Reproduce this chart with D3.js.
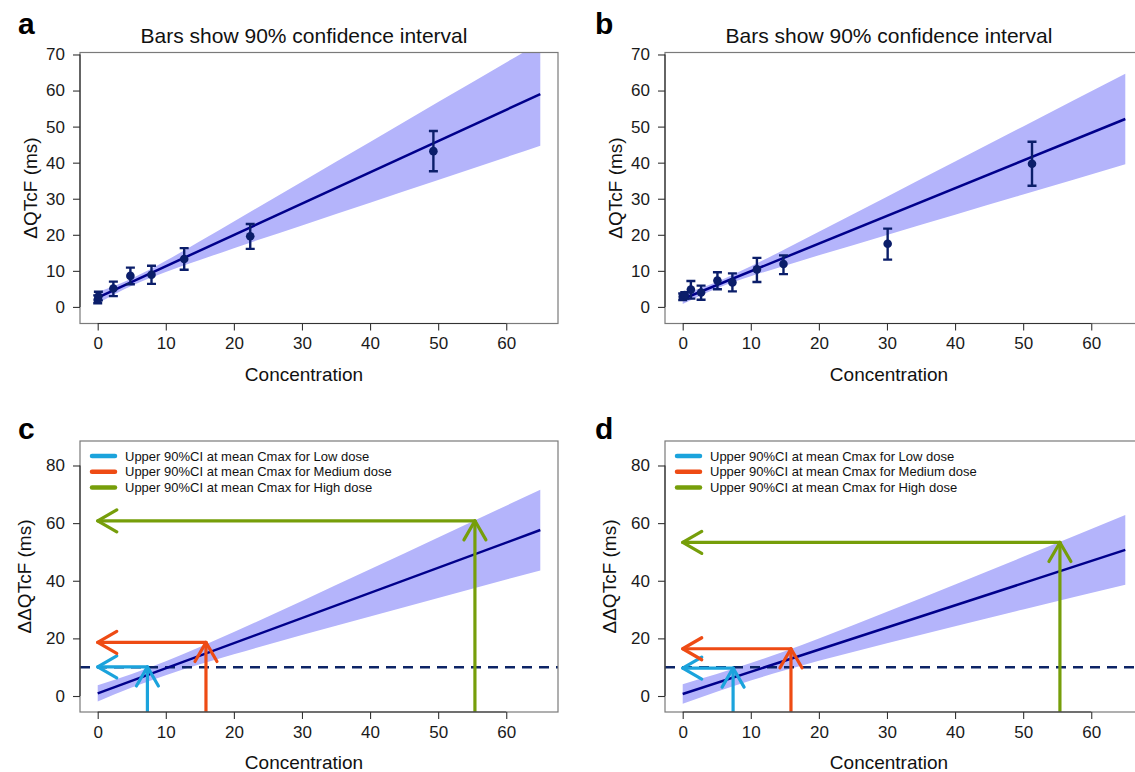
<!DOCTYPE html>
<html>
<head>
<meta charset="utf-8">
<script src="https://cdn.jsdelivr.net/npm/d3@7"></script>
<style>
  body { margin: 0; background: #fff; }
  svg { display: block; font-family: "Liberation Sans", Arial, sans-serif; }
</style>
</head>
<body>
<svg id="chart" width="1135" height="772"></svg>
<script>
// concentration grid for the 90% CI bands
const bandConc = [0, 5, 10, 15, 20, 30, 40, 50, 65];

// panel a
const bandLoA = [1.05, 5.9, 9.7, 13.0, 16.3, 22.6, 28.9, 35.2, 44.7];
const bandHiA = [4.15, 7.9, 12.8, 18.2, 23.7, 34.7, 45.7, 56.8, 73.3];
const fitConc = [0, 65];
const fitA = [2.6, 59.0];
const concA = [0, 0.1, 2.3, 4.8, 7.9, 12.7, 22.4, 49.3];
const qtcA = [2.0, 2.9, 5.1, 8.6, 8.9, 13.3, 19.6, 43.2];
const loA = [1.0, 1.8, 3.0, 6.3, 6.4, 10.3, 16.1, 37.6];
const hiA = [3.2, 4.2, 7.0, 10.9, 11.4, 16.3, 23.0, 48.8];

// panel b
const bandLoB = [0.82, 5.14, 8.5, 11.44, 14.3, 19.94, 25.55, 31.15, 39.57];
const bandHiB = [3.58, 6.94, 11.26, 16.0, 20.82, 30.54, 40.29, 50.05, 64.67];
const fitB = [2.2, 52.1];
const concB = [0, 0.3, 1.2, 2.7, 5.1, 7.3, 10.9, 14.8, 30.1, 51.3];
const qtcB = [2.8, 3.3, 4.8, 4.0, 7.3, 6.8, 10.4, 11.9, 17.5, 39.7];
const loB = [1.9, 2.3, 2.3, 2.0, 4.9, 4.3, 6.9, 9.1, 13.1, 33.6];
const hiB = [3.7, 4.1, 7.2, 5.9, 9.6, 9.3, 13.6, 14.3, 21.7, 45.8];

// panel c
const bandLoC = [-1.94, 2.91, 7.21, 10.99, 14.5, 21.14, 27.61, 34.03, 43.6];
const bandHiC = [3.74, 7.61, 12.03, 16.97, 22.2, 33.0, 43.97, 55.01, 71.6];
const fitC = [0.9, 57.6];
const cmaxC = [7.3, 15.9, 55.4];
const upperC = [10.1, 18.6, 60.8];

// panel d
const bandLoD = [-2.72, 1.49, 5.36, 8.91, 12.2, 18.34, 24.23, 30.01, 38.59];
const bandHiD = [4.12, 7.61, 11.42, 15.57, 19.96, 29.2, 38.69, 48.29, 62.79];
const fitD = [0.7, 50.7];
const cmaxD = [7.4, 15.9, 55.4];
const upperD = [9.7, 16.4, 53.3];

const doseNames = ['Low', 'Medium', 'High'];
const doseColors = ['#1ba3dc', '#ee4b14', '#769e0a'];
const threshold = 10;

const xTicks = [0, 10, 20, 30, 40, 50, 60];
const yTicksTop = [0, 10, 20, 30, 40, 50, 60, 70];
const yTicksBottom = [0, 20, 40, 60, 80];

const svg = d3.select('#chart');
svg.append('rect').attr('width', 1135).attr('height', 772).attr('fill', '#fff');

const BAND = '#b4b4fb';
const FIT = '#00008b';
const PT = '#0b1e6a';

function drawPanel(p) {
  const g = svg.append('g');
  const x = d3.scaleLinear().domain([-2.6, 67.6]).range([p.left, p.left + 478]);
  const y = d3.scaleLinear().domain(p.yDomain).range([p.bottom, p.top]);
  const clipId = 'clip-' + p.letter;
  svg.append('clipPath').attr('id', clipId)
    .append('rect').attr('x', p.left).attr('y', p.top)
    .attr('width', 478).attr('height', p.bottom - p.top);
  const inner = g.append('g').attr('clip-path', `url(#${clipId})`);

  // CI band
  const area = d3.area()
    .x((d, i) => x(bandConc[i]))
    .y0((d, i) => y(p.bandLo[i]))
    .y1((d, i) => y(p.bandHi[i]))
    .curve(d3.curveMonotoneX);
  inner.append('path').datum(p.bandLo).attr('d', area).attr('fill', BAND);

  // threshold
  if (p.arrows) {
    inner.append('line')
      .attr('x1', p.left).attr('x2', p.left + 478)
      .attr('y1', y(threshold)).attr('y2', y(threshold))
      .attr('stroke', '#0d2466').attr('stroke-width', 2.4)
      .attr('stroke-dasharray', '10,7');
  }

  // fitted line
  inner.append('line')
    .attr('x1', x(fitConc[0])).attr('y1', y(p.fit[0]))
    .attr('x2', x(fitConc[1])).attr('y2', y(p.fit[1]))
    .attr('stroke', FIT).attr('stroke-width', 2.5);

  // observed points with 90% CI bars
  if (p.points) {
    const pts = p.points.conc.map((c, i) => ({ c, v: p.points.v[i], lo: p.points.lo[i], hi: p.points.hi[i] }));
    const eb = inner.append('g').attr('stroke', PT).attr('stroke-width', 2.4);
    pts.forEach(d => {
      eb.append('line').attr('x1', x(d.c)).attr('x2', x(d.c)).attr('y1', y(d.lo)).attr('y2', y(d.hi));
      [d.lo, d.hi].forEach(v => eb.append('line')
        .attr('x1', x(d.c) - 4.5).attr('x2', x(d.c) + 4.5).attr('y1', y(v)).attr('y2', y(v)));
    });
    inner.append('g').selectAll('circle').data(pts).join('circle')
      .attr('cx', d => x(d.c)).attr('cy', d => y(d.v)).attr('r', 4.3).attr('fill', PT);
  }

  // dose arrows
  if (p.arrows) {
    p.arrows.cmax.forEach((c, i) => {
      const col = doseColors[i];
      const u = p.arrows.upper[i];
      arrow(inner, x(c), y(p.yDomain[0] - 3), x(c), y(u), col);
      arrow(inner, x(c), y(u), x(0), y(u), col);
    });

    const lg = g.append('g');
    doseNames.forEach((n, i) => {
      const yy = p.top + 15 + i * 15.7;
      lg.append('line').attr('x1', p.left + 12).attr('x2', p.left + 35)
        .attr('y1', yy).attr('y2', yy)
        .attr('stroke', doseColors[i]).attr('stroke-width', 4.5).attr('stroke-linecap', 'round');
      lg.append('text').attr('x', p.left + 45).attr('y', yy + 4.6)
        .attr('font-size', 13).attr('fill', '#111')
        .text(`Upper 90%CI at mean Cmax for ${n} dose`);
    });
  }

  // box
  g.append('rect').attr('x', p.left).attr('y', p.top)
    .attr('width', 478).attr('height', p.bottom - p.top)
    .attr('fill', 'none').attr('stroke', '#7a7a7a').attr('stroke-width', 1.2);

  // axes
  const xa = g.append('g').attr('transform', `translate(0,${p.bottom})`)
    .call(d3.axisBottom(x).tickValues(xTicks).tickSize(7).tickPadding(6.5));
  const ya = g.append('g').attr('transform', `translate(${p.left},0)`)
    .call(d3.axisLeft(y).tickValues(p.yTicks).tickSize(7).tickPadding(8));
  [xa, ya].forEach(a => {
    a.select('.domain').remove();
    a.selectAll('line').attr('stroke', '#333').attr('stroke-width', 1.1);
    a.selectAll('text').attr('font-size', 17).attr('fill', '#1a1a1a')
      .attr('font-family', '"Liberation Sans", Arial, sans-serif');
  });
  g.append('line').attr('x1', x(xTicks[0])).attr('x2', x(xTicks[xTicks.length - 1]))
    .attr('y1', p.bottom).attr('y2', p.bottom).attr('stroke', '#333').attr('stroke-width', 1.2);
  g.append('line').attr('y1', y(p.yTicks[0])).attr('y2', y(p.yTicks[p.yTicks.length - 1]))
    .attr('x1', p.left).attr('x2', p.left).attr('stroke', '#333').attr('stroke-width', 1.2);

  // labels
  g.append('text').attr('x', p.left + 224).attr('y', p.bottom + 57)
    .attr('text-anchor', 'middle').attr('font-size', 19).attr('fill', '#111')
    .text('Concentration');
  const yc = (p.top + p.bottom) / 2;
  g.append('text')
    .attr('transform', `translate(${p.left - p.yTitleOff},${yc}) rotate(-90)`)
    .attr('text-anchor', 'middle').attr('font-size', 19).attr('fill', '#111')
    .text(p.yTitle);
  if (p.title) {
    g.append('text').attr('x', p.left + 224).attr('y', 43)
      .attr('text-anchor', 'middle').attr('font-size', 21).attr('fill', '#111')
      .text(p.title);
  }
  g.append('text').attr('x', p.letterX).attr('y', p.letterY)
    .attr('font-size', 30).attr('font-weight', 'bold').attr('fill', '#000')
    .text(p.letter);
}

function arrow(g, x1, y1, x2, y2, col) {
  const L = 22, a = Math.PI / 6;
  const ang = Math.atan2(y2 - y1, x2 - x1);
  const arms = [ang + a, ang - a].map(t => [x2 - L * Math.cos(t), y2 - L * Math.sin(t)]);
  g.append('line').attr('x1', x1).attr('y1', y1).attr('x2', x2).attr('y2', y2)
    .attr('stroke', col).attr('stroke-width', 3.2).attr('stroke-linecap', 'round');
  g.append('path')
    .attr('d', `M${arms[0][0]},${arms[0][1]}L${x2},${y2}L${arms[1][0]},${arms[1][1]}`)
    .attr('fill', 'none').attr('stroke', col).attr('stroke-width', 3.2)
    .attr('stroke-linecap', 'round').attr('stroke-linejoin', 'round');
}

const title = 'Bars show 90% confidence interval';

drawPanel({
  letter: 'a', letterX: 18, letterY: 34, left: 80, top: 52.5, bottom: 323.5,
  yDomain: [-4.6, 70.55], yTicks: yTicksTop, title, yTitle: 'ΔQTcF (ms)', yTitleOff: 43,
  bandLo: bandLoA, bandHi: bandHiA, fit: fitA,
  points: { conc: concA, v: qtcA, lo: loA, hi: hiA }
});
drawPanel({
  letter: 'b', letterX: 595, letterY: 34, left: 665, top: 52.5, bottom: 323.5,
  yDomain: [-4.6, 70.55], yTicks: yTicksTop, title, yTitle: 'ΔQTcF (ms)', yTitleOff: 43,
  bandLo: bandLoB, bandHi: bandHiB, fit: fitB,
  points: { conc: concB, v: qtcB, lo: loB, hi: hiB }
});
drawPanel({
  letter: 'c', letterX: 18, letterY: 439, left: 80, top: 441, bottom: 712,
  yDomain: [-5.55, 88.5], yTicks: yTicksBottom, yTitle: 'ΔΔQTcF (ms)', yTitleOff: 49,
  bandLo: bandLoC, bandHi: bandHiC, fit: fitC,
  arrows: { cmax: cmaxC, upper: upperC }
});
drawPanel({
  letter: 'd', letterX: 595, letterY: 439, left: 665, top: 441, bottom: 712,
  yDomain: [-5.55, 88.5], yTicks: yTicksBottom, yTitle: 'ΔΔQTcF (ms)', yTitleOff: 49,
  bandLo: bandLoD, bandHi: bandHiD, fit: fitD,
  arrows: { cmax: cmaxD, upper: upperD }
});
</script>
</body>
</html>
